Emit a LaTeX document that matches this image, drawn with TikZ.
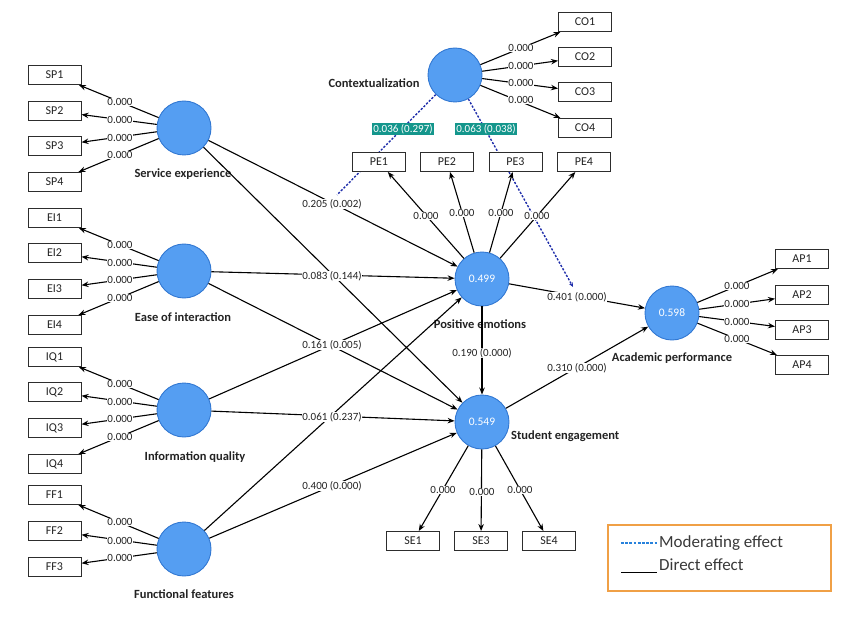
\documentclass[tikz,border=0pt]{standalone}
\usepackage{fontspec}
\setmainfont{Carlito}
\usetikzlibrary{arrows.meta}
\pgfdeclarelayer{bg}
\pgfsetlayers{bg,main}
\definecolor{circfill}{RGB}{85,158,242}
\definecolor{circdraw}{RGB}{50,120,210}
\definecolor{boxdraw}{RGB}{45,45,45}
\definecolor{tealc}{RGB}{20,150,140}
\definecolor{modc}{RGB}{30,45,170}
\definecolor{legblue}{RGB}{40,130,220}
\definecolor{legorange}{RGB}{240,160,70}
\definecolor{txt}{RGB}{35,35,35}
\begin{document}
\begin{tikzpicture}[x=1pt,y=-1pt,
  lat/.style={circle, minimum size=54pt, inner sep=0pt, fill=circfill, draw=circdraw, line width=0.9pt, text=white, font=\fontsize{11.5}{12}\selectfont},
  ind/.style={draw=boxdraw, line width=1pt, fill=white, minimum width=53pt, minimum height=19pt, inner sep=0pt, text=txt, font=\fontsize{12}{13}\selectfont},
  ttl/.style={font=\bfseries\fontsize{12.5}{14}\selectfont, text=txt, inner sep=1pt},
  lbl/.style={fill=white, inner sep=0.6pt, text=txt, font=\fontsize{11}{12}\selectfont},
  arr/.style={-{Stealth[length=7pt,width=5.5pt]}, line width=1.1pt},
  modline/.style={draw=modc, line width=1.4pt, dash pattern=on 2.2pt off 1.6pt},
  modlbl/.style={fill=tealc, text=white, inner sep=1.6pt, font=\fontsize{11}{12}\selectfont},
  legtxt/.style={anchor=west, text=txt!90!white, inner sep=0pt, font=\fontsize{17}{19}\selectfont}
]
\useasboundingbox (0,0) rectangle (861,620);

% latent variables
\node[lat] (SE) at (184,128) {};
\node[lat] (EI) at (184,271) {};
\node[lat] (IQ) at (184,410) {};
\node[lat] (FF) at (184,549) {};
\node[lat] (CX) at (455,75) {};
\node[lat] (PE) at (482,279) {0.499};
\node[lat] (STE) at (482,422) {0.549};
\node[lat] (AP) at (672,313) {0.598};

% titles
\node[ttl] (tSE) at (183,174) {Service experience};
\node[ttl] (tEI) at (183,317) {Ease of interaction};
\node[ttl] (tIQ) at (195,457) {Information quality};
\node[ttl] (tFF) at (184,594) {Functional features};
\node[ttl] (tCX) at (374,83) {Contextualization};
\node[ttl] (tPE) at (480,324) {Positive emotions};
\node[ttl, anchor=west] (tSTE) at (510,436) {Student engagement};
\node[ttl] (tAP) at (672,358) {Academic performance};

% indicators
\foreach \i/\y in {1/75,2/111,3/146,4/182} \node[ind] (SP\i) at (54.5,\y) {SP\i};
\foreach \i/\y in {1/218,2/253,3/289,4/325} \node[ind] (EI\i) at (54.5,\y) {EI\i};
\foreach \i/\y in {1/357,2/392,3/428,4/464} \node[ind] (IQ\i) at (54.5,\y) {IQ\i};
\foreach \i/\y in {1/495,2/531,3/567} \node[ind] (FF\i) at (54.5,\y) {FF\i};
\foreach \i/\y in {1/22,2/57,3/92,4/128} \node[ind] (CO\i) at (585,\y) {CO\i};
\foreach \i/\x in {1/379,2/447,3/515.5,4/584} \node[ind] (PE\i) at (\x,162) {PE\i};
\foreach \i/\y in {1/259,2/295,3/330,4/365} \node[ind] (AP\i) at (802,\y) {AP\i};
\node[ind] (SE1) at (413,541) {SE1};
\node[ind] (SE3) at (481,541) {SE3};
\node[ind] (SE4) at (549,541) {SE4};

% outer loadings
\foreach \i in {1,...,4} \draw[arr] (SE) -- (SP\i);
\foreach \i in {1,...,4} \draw[arr] (EI) -- (EI\i);
\foreach \i in {1,...,4} \draw[arr] (IQ) -- (IQ\i);
\foreach \i in {1,...,3} \draw[arr] (FF) -- (FF\i);
\foreach \i in {1,...,4} \draw[arr] (CX) -- (CO\i);
\foreach \i in {1,...,4} \draw[arr] (PE) -- (PE\i);
\foreach \i in {1,...,4} \draw[arr] (AP) -- (AP\i);
\foreach \i in {1,3,4} \draw[arr] (STE) -- (SE\i);

% moderating effects (behind boxes)
\coordinate (m1) at (337,195);
\coordinate (m2) at (573,287);
\begin{pgfonlayer}{bg}
\draw[modline] (CX) -- (m1);
\draw[modline, -{Stealth[length=4.5pt,width=4pt]}] (CX) -- (m2);
\end{pgfonlayer}

% structural paths
\draw[arr] (SE) -- (PE);
\draw[arr] (SE) -- (STE);
\draw[arr] (EI) -- (PE);
\draw[arr] (EI) -- (STE);
\draw[arr] (IQ) -- (PE);
\draw[arr] (IQ) -- (STE);
\draw[arr] (FF) -- (PE);
\draw[arr] (FF) -- (STE);
\draw[arr] (PE) -- (STE);
\draw[arr] (PE) -- (AP);
\draw[arr] (STE) -- (AP);

% loading labels
\foreach \y [count=\i] in {102,120,138,155} \node[lbl] (lSP\i) at (120,\y) {0.000};
\foreach \y [count=\i] in {245,263,280,298} \node[lbl] (lEI\i) at (120,\y) {0.000};
\foreach \y [count=\i] in {384,402,419,437} \node[lbl] (lIQ\i) at (120,\y) {0.000};
\foreach \y [count=\i] in {522,541,558} \node[lbl] (lFF\i) at (120,\y) {0.000};
\foreach \y [count=\i] in {48,66,83,100} \node[lbl] (lCO\i) at (521,\y) {0.000};
\foreach \y [count=\i] in {286,304,322,339} \node[lbl] (lAP\i) at (737,\y) {0.000};
\node[lbl] (lPE1) at (426,216) {0.000};
\node[lbl] (lPE2) at (462,213) {0.000};
\node[lbl] (lPE3) at (501,213) {0.000};
\node[lbl] (lPE4) at (537,216) {0.000};
\node[lbl] (lSE1) at (443,490) {0.000};
\node[lbl] (lSE3) at (482,492) {0.000};
\node[lbl] (lSE4) at (520,490) {0.000};

% path labels
\node[lbl] (p1) at (332,204) {0.205 (0.002)};
\node[lbl] (p2) at (332,276) {0.083 (0.144)};
\node[lbl] (p3) at (332,345) {0.161 (0.005)};
\node[lbl] (p4) at (332,417) {0.061 (0.237)};
\node[lbl] (p5) at (332,486) {0.400 (0.000)};
\node[lbl] (p6) at (482,353) {0.190 (0.000)};
\node[lbl] (p7) at (577,297) {0.401 (0.000)};
\node[lbl] (p8) at (577,368) {0.310 (0.000)};

% moderating labels
\node[modlbl] (mod1) at (403,129) {0.036 (0.297)};
\node[modlbl] (mod2) at (486,129) {0.063 (0.038)};

% legend
\node[draw=legorange, line width=1.4pt, minimum width=223pt, minimum height=66pt, inner sep=0pt] (leg) at (719.5,558) {};
\coordinate (la1) at (621,543);
\coordinate (la2) at (657,543);
\coordinate (lb1) at (621,572);
\coordinate (lb2) at (657,572);
\draw[draw=legblue, line width=1.5pt, dash pattern=on 2.8pt off 1.4pt] (la1) -- (la2);
\draw[line width=0.9pt] (lb1) -- (lb2);
\node[legtxt] (lgm) at (659,543) {Moderating effect};
\node[legtxt] (lgd) at (659,565) {Direct effect};
\end{tikzpicture}
\end{document}
